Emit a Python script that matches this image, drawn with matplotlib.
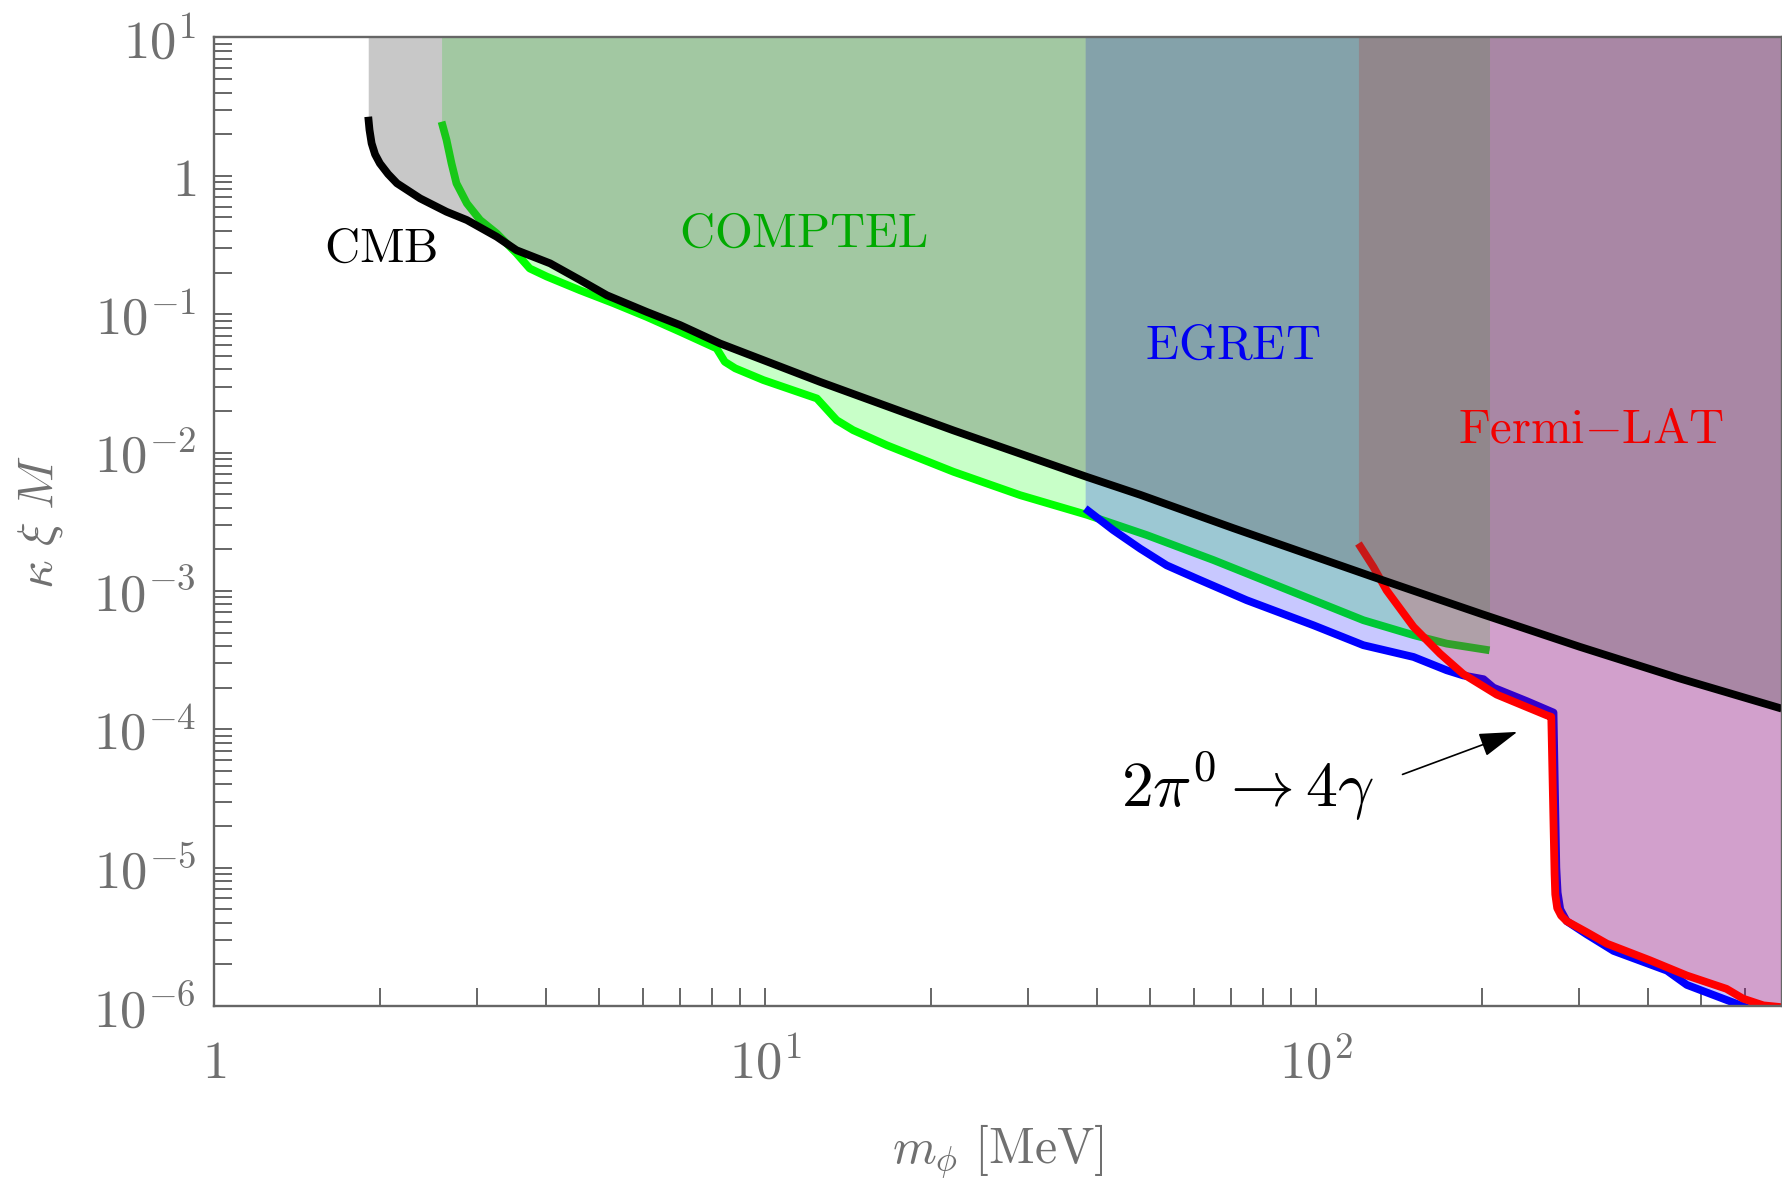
import matplotlib
matplotlib.use("Agg")
import matplotlib.pyplot as plt
from matplotlib.ticker import FixedLocator, FixedFormatter, NullFormatter

plt.rcParams['mathtext.fontset'] = 'cm'

# limites (m_phi em MeV, kappa xi M)
cmb_m = [1.905, 1.915, 1.932, 1.96, 2.00, 2.07, 2.148, 2.366, 2.642, 2.877, 3.258,
         3.540, 4.074, 4.613, 5.164, 6.095, 7.015, 8.279, 12.59, 21.98, 38.37, 47.97,
         70.8, 127.1, 199.5, 301.3, 457.0, 700.0]
cmb_y = [2.673, 2.15, 1.718, 1.43, 1.230, 1.03, 0.883, 0.687, 0.550, 0.479, 0.363,
         0.290, 0.233, 0.177, 0.137, 0.104, 0.0834, 0.0615, 0.0324, 0.01445, 6.67e-3,
         4.95e-3, 2.84e-3, 1.26e-3, 6.82e-4, 3.94e-4, 2.33e-4, 1.41e-4]

comptel_m = [2.588, 2.642, 2.698, 2.754, 2.877, 3.041, 3.258, 3.540, 3.741, 4.018,
             4.613, 5.309, 6.095, 7.015, 8.166, 8.453, 8.831, 9.931, 12.42, 13.49,
             14.45, 16.63, 21.98, 29.04, 38.37, 49.32, 65.16, 86.10, 121.9, 150.3,
             172.6, 206.5]
comptel_y = [2.46, 1.82, 1.23, 0.883, 0.632, 0.479, 0.384, 0.275, 0.214, 0.187,
             0.149, 0.120, 0.0957, 0.0746, 0.0566, 0.0453, 0.0406, 0.0334, 0.0246,
             0.01714, 0.01452, 0.01130, 7.26e-3, 4.92e-3, 3.55e-3, 2.53e-3, 1.67e-3,
             1.07e-3, 6.14e-4, 4.79e-4, 4.16e-4, 3.72e-4]

egret_m = [38.11, 42.85, 47.97, 53.58, 60.67, 74.82, 98.86, 121.9, 150.3, 172.6,
           184.9, 201.4, 209.9, 241.0, 269.8, 273.0, 274.5, 277.5, 285.1, 309.7, 346.7,
           433.5, 471.0, 571.5, 622.3, 700.0]
egret_y = [3.94e-3, 2.75e-3, 2.02e-3, 1.53e-3, 1.23e-3, 8.57e-4, 5.65e-4, 4.05e-4,
           3.33e-4, 2.67e-4, 2.45e-4, 2.30e-4, 2.00e-4, 1.60e-4, 1.32e-4, 1.0e-5,
           6.6e-6, 5.0e-6, 4.1e-6, 3.3e-6, 2.5e-6, 1.8e-6, 1.42e-6, 1.06e-6, 9.3e-7,
           7.5e-7]

fermi_m = [119.4, 127.1, 134.3, 150.3, 167.9, 184.9, 212.8, 262.4, 267.3, 271.0,
           271.8, 274.0, 278.5, 285.1, 309.7, 337.3, 403.6, 471.0, 555.9, 595.7,
           648.6, 700.0]
fermi_y = [2.20e-3, 1.49e-3, 1.01e-3, 5.50e-4, 3.52e-4, 2.51e-4, 1.78e-4, 1.26e-4,
           1.23e-4, 9.04e-6, 6.4e-6, 5.1e-6, 4.5e-6, 4.1e-6, 3.42e-6, 2.82e-6,
           2.14e-6, 1.66e-6, 1.33e-6, 1.13e-6, 1.01e-6, 9.8e-7]

x_major = [1, 10, 100]
x_labels = [r'$1$', r'$10^{1}$', r'$10^{2}$']
y_major = [1e-6, 1e-5, 1e-4, 1e-3, 1e-2, 1e-1, 1, 10]
y_labels = [r'$10^{-6}$', r'$10^{-5}$', r'$10^{-4}$', r'$10^{-3}$',
            r'$10^{-2}$', r'$10^{-1}$', r'$1$', r'$10^{1}$']

xmin, xmax = 1, 700
ymin, ymax = 1e-6, 10

cinza = '#666666'
lw_curva = 5.6

fig = plt.figure(figsize=(17.82, 11.86), dpi=100)
ax = fig.add_axes([0.1201, 0.1518, 0.8797, 0.8166])
ax.set_xscale('log')
ax.set_yscale('log')
ax.set_xlim(xmin, xmax)
ax.set_ylim(ymin, ymax)

# regioes excluidas (preenchidas ate o topo), cada uma com sua curva
ax.fill_between(comptel_m, comptel_y, ymax, color=(0, 1, 0), alpha=0.216, lw=0, zorder=1)
ax.plot(comptel_m, comptel_y, color=(0, 1, 0), lw=lw_curva, zorder=2, solid_capstyle='butt')
ax.fill_between(egret_m, egret_y, ymax, color=(0, 0, 1), alpha=0.216, lw=0, zorder=3)
ax.plot(egret_m, egret_y, color=(0, 0, 1), lw=lw_curva, zorder=4, solid_capstyle='butt')
ax.fill_between(fermi_m, fermi_y, ymax, color=(1, 0, 0), alpha=0.2, lw=0, zorder=5)
ax.plot(fermi_m, fermi_y, color=(1, 0, 0), lw=lw_curva, zorder=6, solid_capstyle='butt')
ax.fill_between(cmb_m, cmb_y, ymax, color=(0.314, 0.314, 0.314), alpha=0.31, lw=0, zorder=7)
ax.plot(cmb_m, cmb_y, color='black', lw=lw_curva, zorder=8, solid_capstyle='butt')

# rotulos
ax.text(2.008, 0.303, r'$\mathrm{CMB}$', color='black', fontsize=35,
        ha='center', va='center', zorder=10)
ax.text(11.73, 0.386, r'$\mathrm{COMPTEL}$', color='#00aa00', fontsize=35,
        ha='center', va='center', zorder=10)
ax.text(70.7, 0.0605, r'$\mathrm{EGRET}$', color=(0, 0, 0.95), fontsize=35,
        ha='center', va='center', zorder=10)
ax.text(315.6, 0.0149, r'$\mathrm{Fermi{-}LAT}$', color=(0.95, 0, 0), fontsize=35,
        ha='center', va='center', zorder=10)

ax.text(75.3, 3.87e-5, r'$2\pi^0 \rightarrow 4\gamma$', color='black', fontsize=46,
        ha='center', va='center', zorder=10)
ax.annotate('', xy=(234.5, 9.73e-5), xytext=(142.0, 4.64e-5),
            arrowprops=dict(arrowstyle='-|>,head_length=0.8,head_width=0.25',
                            color='black', lw=1.2, mutation_scale=30),
            zorder=10)

# eixos no estilo do original
for s in ax.spines.values():
    s.set_color(cinza)
    s.set_linewidth(1.7)
    s.set_zorder(11)

ax.xaxis.set_major_locator(FixedLocator(x_major))
ax.xaxis.set_major_formatter(FixedFormatter(x_labels))
x_minor = [k * 10 ** d for d in range(3) for k in range(2, 10) if k * 10 ** d < xmax]
ax.xaxis.set_minor_locator(FixedLocator(x_minor))
ax.xaxis.set_minor_formatter(NullFormatter())

ax.yaxis.set_major_locator(FixedLocator(y_major))
ax.yaxis.set_major_formatter(FixedFormatter(y_labels))
y_minor = [k * 10.0 ** d for d in range(-6, 1) for k in range(2, 10)]
ax.yaxis.set_minor_locator(FixedLocator(y_minor))
ax.yaxis.set_minor_formatter(NullFormatter())

ax.tick_params(which='both', direction='in', length=13, width=1.4, color=cinza,
               top=False, right=False, labelcolor='#707070', labelsize=38)
ax.tick_params(axis='y', which='both', pad=13)
ax.tick_params(axis='x', which='both', pad=52)
for lab in ax.get_xticklabels():
    lab.set_verticalalignment('baseline')

ax.set_xlabel(r'$m_\phi\ [\mathrm{MeV}]$', fontsize=36, color='#707070')
ax.xaxis.label.set_verticalalignment('center')
ax.xaxis.set_label_coords(0.5, -0.150)
ax.set_ylabel(r'$\kappa\ \xi\ M$', fontsize=36, color='#707070')
ax.yaxis.label.set_verticalalignment('center')
ax.yaxis.set_label_coords(-0.111, 0.5)

fig.savefig('out.png', dpi=100)
